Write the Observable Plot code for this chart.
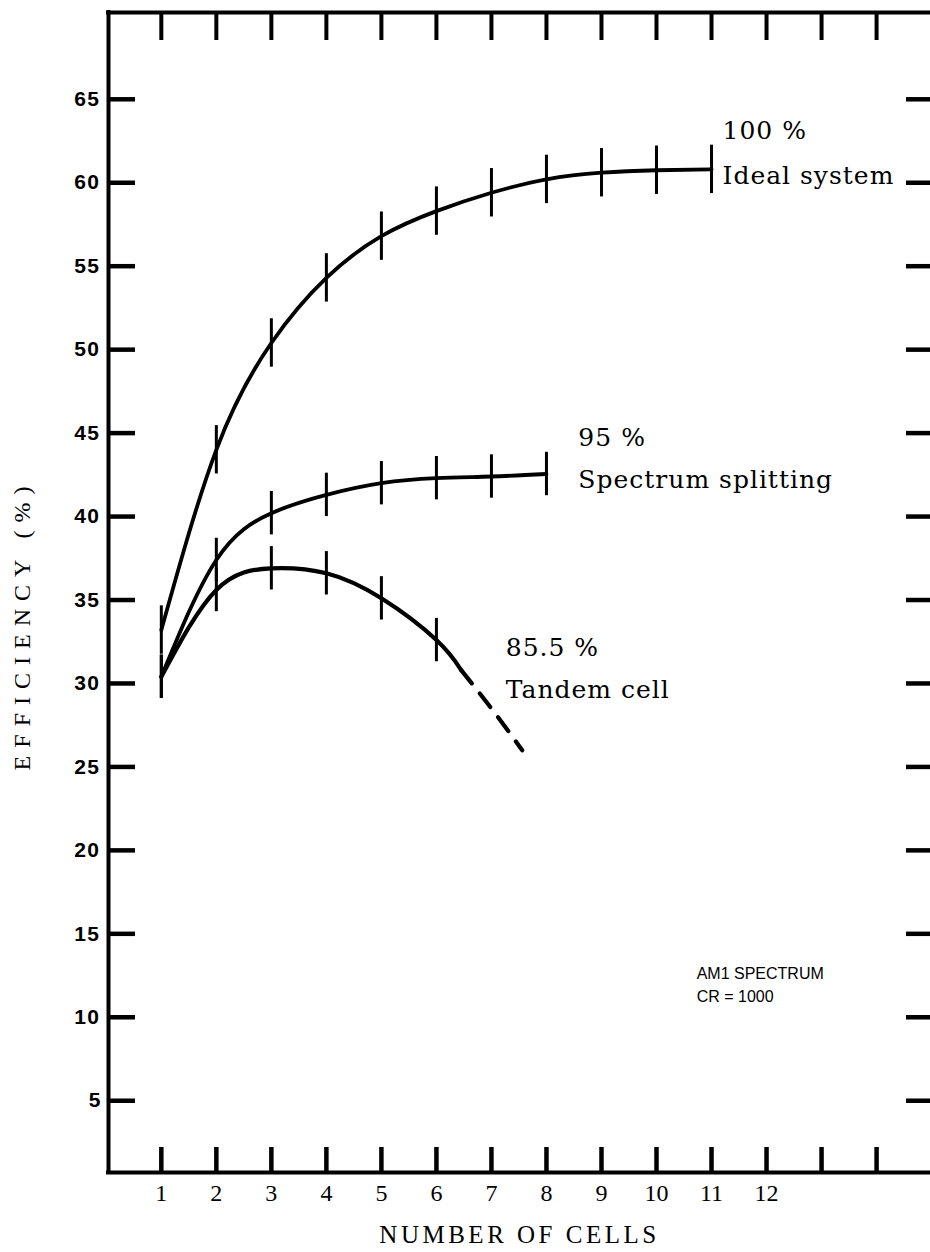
<!DOCTYPE html>
<html><head><meta charset="utf-8">
<script src="https://cdn.jsdelivr.net/npm/d3@7"></script>
<script src="https://cdn.jsdelivr.net/npm/@observablehq/plot@0.6"></script>
<style>
html,body{margin:0;padding:0;background:#fff;overflow:hidden}
#chart svg{display:block}
</style></head><body><div id="chart"></div>
<script>
// ---- data ----
const idealCells = [1,2,3,4,5,6,7,8,9,10,11];
const ideal      = [33.2,44.0,50.4,54.3,56.8,58.3,59.4,60.2,60.6,60.75,60.8];
const spectrumCells = [1,2,3,4,5,6,7,8];
const spectrum      = [30.4,37.4,40.2,41.3,42.0,42.3,42.4,42.55];
const tandemCells = [1,2,3,4,5,6];
const tandem      = [30.4,35.6,36.9,36.6,35.1,32.6];
const tandemSolidCells = [1,2,3,4,5,6,6.45];
const tandemSolid      = [30.4,35.6,36.9,36.6,35.1,32.6,30.8];
const tandemDashCells = [6.45,7.0,7.56];
const tandemDash      = [30.8,28.5,26.0];
const idealErr = 1.45, lowerErr = 1.3;

const xTicks = [1,2,3,4,5,6,7,8,9,10,11,12,13,14];
const xLabels = [1,2,3,4,5,6,7,8,9,10,11,12];
const yTicks = [5,10,15,20,25,30,35,40,45,50,55,60,65];

const annText = ["100 %","Ideal system","95 %","Spectrum splitting","85.5 %","Tandem cell"];
const annX    = [11.2,11.2,8.58,8.58,7.26,7.26];
const annY    = [63.1,60.4,44.7,42.2,32.1,29.6];
const noteText = ["AM1 SPECTRUM","CR = 1000"];
const noteX = [10.73,10.73];
const noteY = [12.6,11.2];

const xDomain = [0.04, 14.98];
const yDomain = [0.7, 70.2];

const zip = (xs, ys) => xs.map((x, i) => ({x, y: ys[i]}));
const idealD = zip(idealCells, ideal);
const specD = zip(spectrumCells, spectrum);
const tandD = zip(tandemCells, tandem);
const tandSolidD = zip(tandemSolidCells, tandemSolid);
const tandDashD = zip(tandemDashCells, tandemDash);
const ann = annText.map((t, i) => ({t, x: annX[i], y: annY[i]}));
const notes = noteText.map((t, i) => ({t, x: noteX[i], y: noteY[i]}));

const blank = () => "";

const plot = Plot.plot({
  width: 930, height: 1252,
  marginLeft: 108, marginRight: 0, marginTop: 12, marginBottom: 80,
  style: {background: "white", fontFamily: "Liberation Serif, serif", fontSize: "21px", color: "black"},
  x: {domain: xDomain, label: null},
  y: {domain: yDomain, label: null},
  marks: [
    // frame (no right side)
    Plot.ruleX([xDomain[0]], {stroke: "black", strokeWidth: 4, strokeLinecap: "square"}),
    Plot.ruleY([yDomain[0]], {stroke: "black", strokeWidth: 4, strokeLinecap: "square"}),
    Plot.ruleY([yDomain[1]], {stroke: "black", strokeWidth: 4, strokeLinecap: "square"}),
    // inward ticks
    Plot.axisX({anchor: "bottom", ticks: xTicks, tickSize: -25, strokeWidth: 4.5, tickFormat: blank, label: null}),
    Plot.axisX({anchor: "top", ticks: xTicks, tickSize: -27, strokeWidth: 4, tickFormat: blank, label: null}),
    Plot.axisY({anchor: "left", ticks: yTicks, tickSize: -27, strokeWidth: 4.5, tickFormat: blank, label: null}),
    Plot.axisY({anchor: "right", ticks: yTicks, tickSize: -25, strokeWidth: 4.5, tickFormat: blank, label: null}),
    // tick labels
    Plot.axisX({anchor: "bottom", ticks: xLabels, tickSize: 0, tickPadding: 11, label: null,
      fontFamily: "Liberation Serif, serif", fontSize: 24}),
    Plot.axisY({anchor: "left", ticks: yTicks, tickSize: 0, tickPadding: 8, label: null,
      fontFamily: "Liberation Sans, Arial, sans-serif", fontSize: 21, fontWeight: "bold"}),
    // curves
    Plot.line(idealD, {x: "x", y: "y", curve: "natural", stroke: "black", strokeWidth: 3.8}),
    Plot.line(specD, {x: "x", y: "y", curve: "natural", stroke: "black", strokeWidth: 3.8}),
    Plot.line(tandSolidD, {x: "x", y: "y", curve: "natural", stroke: "black", strokeWidth: 4.2}),
    Plot.line(tandDashD, {x: "x", y: "y", curve: "natural", stroke: "black", strokeWidth: 4.2, strokeDasharray: "17,13", strokeLinecap: "round"}),
    // hash bars
    Plot.ruleX(idealD, {x: "x", y1: d => d.y - idealErr, y2: d => d.y + idealErr, stroke: "black", strokeWidth: 3}),
    Plot.ruleX(specD, {x: "x", y1: d => d.y - lowerErr, y2: d => d.y + lowerErr, stroke: "black", strokeWidth: 3}),
    Plot.ruleX(tandD, {x: "x", y1: d => d.y - lowerErr, y2: d => d.y + lowerErr, stroke: "black", strokeWidth: 3}),
    // annotations
    Plot.text(ann, {x: "x", y: "y", text: "t", textAnchor: "start", fontFamily: "DejaVu Serif, serif", fontSize: 25, fill: "black"}),
    Plot.text(notes, {x: "x", y: "y", text: "t", textAnchor: "start", fontFamily: "Liberation Sans, Arial, sans-serif", fontSize: 16, fill: "black"}),
    // axis titles
    Plot.text(["NUMBER OF CELLS"], {frameAnchor: "bottom", textAnchor: "middle", dy: 70, fontFamily: "Liberation Serif, serif", fontSize: 25, fill: "black"}),
    Plot.text(["EFFICIENCY (%)"], {frameAnchor: "left", textAnchor: "middle", dx: -86, dy: 32, rotate: -90, fontFamily: "Liberation Serif, serif", fontSize: 24, fill: "black"})
  ]
});

d3.select(plot).selectAll("text").each(function() {
  const t = this.textContent;
  if (t === "NUMBER OF CELLS") d3.select(this).attr("letter-spacing", "3.5px");
  if (t === "EFFICIENCY (%)") d3.select(this).attr("letter-spacing", "8px");
  if (["100 %","Ideal system","95 %","Spectrum splitting","85.5 %","Tandem cell"].includes(t)) d3.select(this).attr("letter-spacing", "1px");
  if (/^\d\d$/.test(t) && this.closest('g[aria-label="y-axis tick label"]')) d3.select(this).attr("letter-spacing", "1.5px");
});
document.getElementById("chart").appendChild(plot);
</script></body></html>
